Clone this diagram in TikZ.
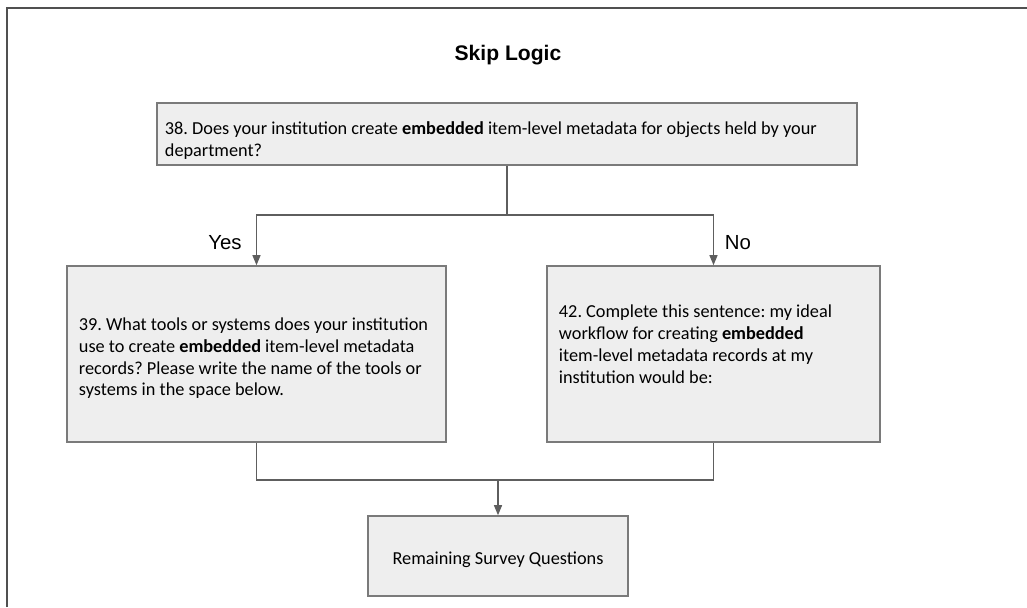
\documentclass[tikz,border=0pt]{standalone}
\usepackage{fontspec}
\setmainfont{Carlito}
\newfontfamily\arialfont{Liberation Sans}
\usetikzlibrary{positioning, arrows.meta, calc}
\frenchspacing
\definecolor{boxfill}{HTML}{EEEEEE}
\definecolor{boxline}{HTML}{7A7A7A}
\definecolor{wire}{HTML}{5E5E5E}
\definecolor{frameline}{HTML}{505050}
\tikzset{
  question/.style={
    draw=boxline, fill=boxfill, line width=1.1pt, rectangle,
    align=flush left, font=\fontsize{13}{15.6}\selectfont,
    inner xsep=0.3cm, inner ysep=0pt
  },
  % Title and branch labels
  heading/.style={font=\arialfont\bfseries\fontsize{15}{18}\selectfont, inner sep=0pt},
  branch/.style={font=\arialfont\fontsize{14.5}{17}\selectfont, inner sep=0pt},
  % Connectors
  wireline/.style={draw=wire, line width=0.9pt},
  flow/.style={wireline, -{Triangle[length=0.25cm, width=0.2cm]}},
}

\begin{document}
\begin{tikzpicture}[x=0.025cm, y=-0.025cm]
  \useasboundingbox (0,0) rectangle (1027,607);

  %% ── Frame ──
  \draw[frameline, line width=1.4pt] (7,607) -- (7,8) -- (1027,8);

  %% ── Title ──
  \node[heading] (title) at (508,55) {Skip Logic};

  %% ── Questions ──
  \node[question, minimum width=17.5cm, minimum height=1.55cm,
        text width=17.1cm, inner xsep=0.2cm, text height=18pt] (q38) at (507,134)
    {38. Does your institution create \textbf{embedded} item-level metadata for objects held by your\\department?};
  \node[question, minimum width=9.475cm, minimum height=4.4cm,
        text width=8.875cm, text height=15pt] (q39) at (256.5,354)
    {39. What tools or systems does your institution\\use to create \textbf{embedded} item-level metadata\\records? Please write the name of the tools or\\systems in the space below.};
  \node[question, minimum width=8.325cm, minimum height=4.4cm,
        text width=7.725cm, text depth=61pt] (q42) at (713.5,354)
    {42. Complete this sentence: my ideal\\workflow for creating \textbf{embedded}\\item-level metadata records at my\\institution would be:};
  \node[question, minimum width=6.5cm, minimum height=2cm,
        align=center, text height=15pt] (rest) at (498,556) {Remaining Survey Questions};

  %% ── Branches ──
  \coordinate (split) at (q38.south |- 0,215);
  \draw[wireline] (q38.south) -- (split);
  \draw[flow] (split) -| (q39.north);
  \draw[flow] (split) -| (q42.north);
  \node[branch] (yes) at (225,243) {Yes};
  \node[branch] (no)  at (738,243) {No};

  %% ── Merge ──
  \coordinate (merge) at (rest.north |- 0,480);
  \draw[wireline] (q39.south) |- (merge) -| (q42.south);
  \draw[flow] (merge) -- (rest.north);

\end{tikzpicture}
\end{document}
